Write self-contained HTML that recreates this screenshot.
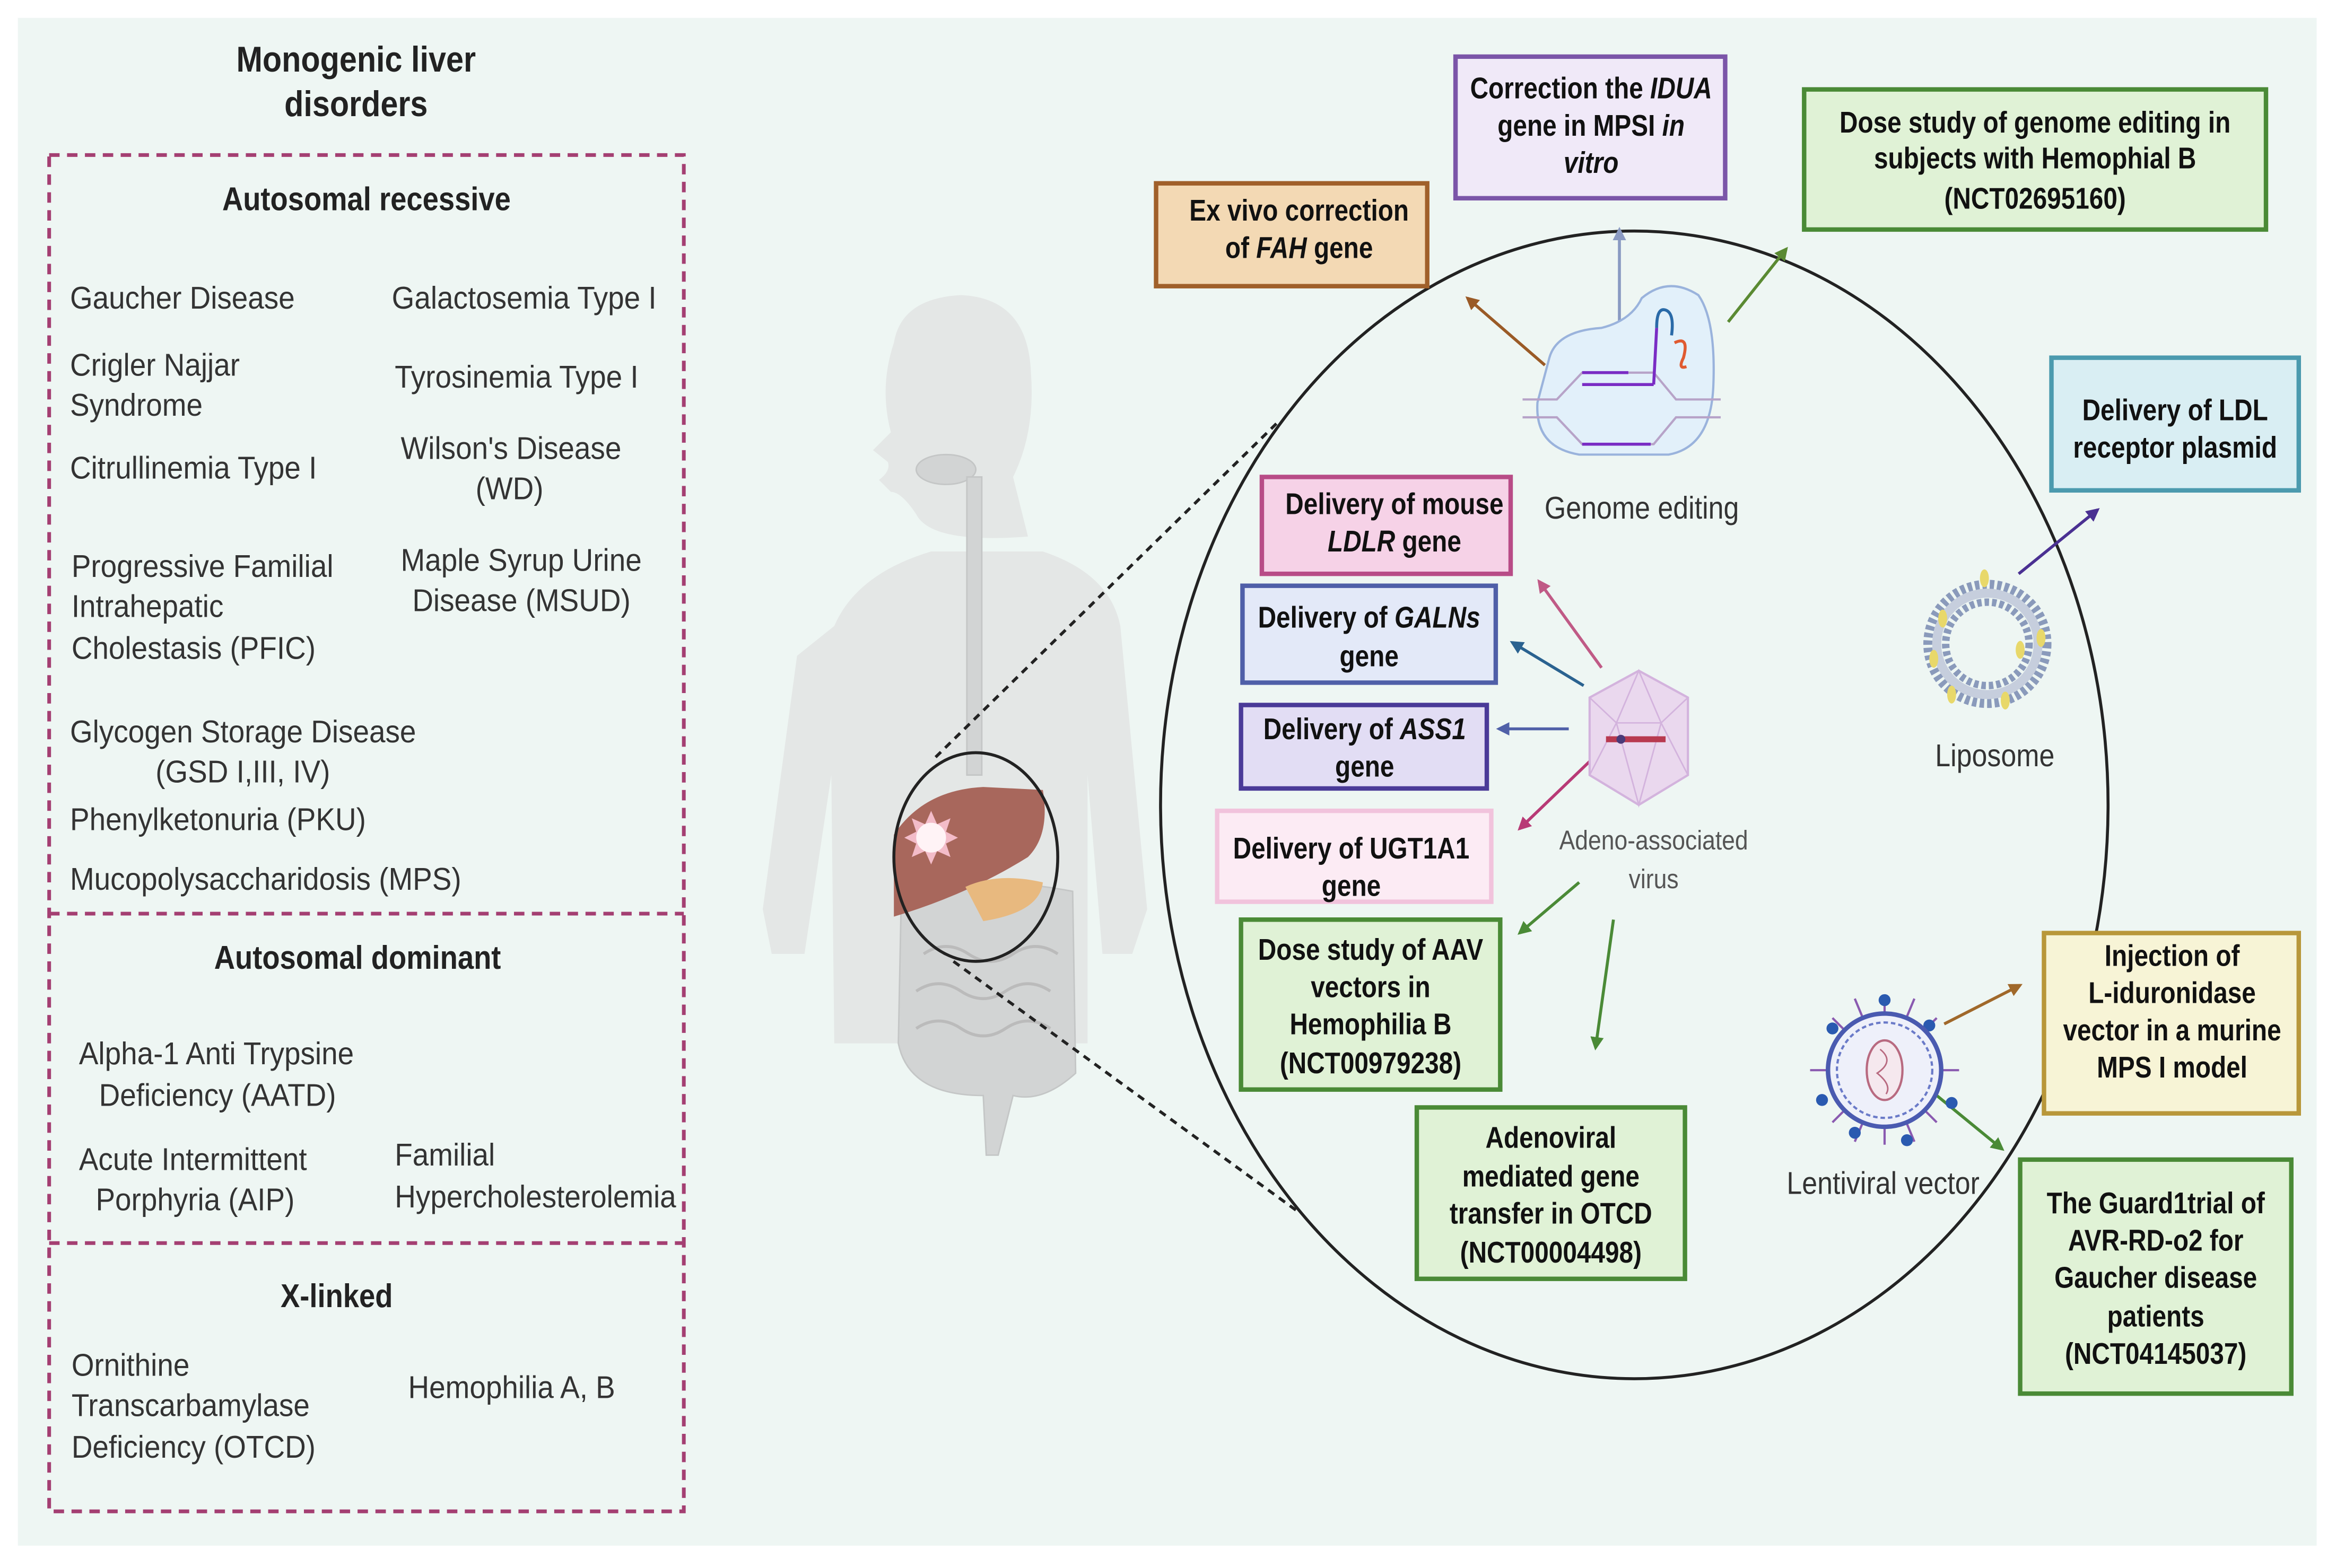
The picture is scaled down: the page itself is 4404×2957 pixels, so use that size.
<!DOCTYPE html>
<html><head><meta charset="utf-8"><style>
html,body{margin:0;padding:0;background:#fff;}
svg{display:block;}
text{font-family:"Liberation Sans",sans-serif;fill:#222;transform-box:fill-box;transform-origin:left center;transform:scaleX(0.88);}
text.c{transform-origin:center center;}
.b{font-weight:bold;}
.t{font-size:21px;fill:#333;transform:scaleX(0.93);}
.bx{font-size:20px;font-weight:bold;fill:#111;transform:scaleX(0.85);}
.c{text-anchor:middle;}
</style></head><body>
<svg width="4404" height="2957" viewBox="0 0 1568 1052" preserveAspectRatio="none" xmlns="http://www.w3.org/2000/svg">
<defs>
<marker id="m" viewBox="0 0 10 10" refX="8" refY="5" markerWidth="4.5" markerHeight="4.5" orient="auto-start-reverse"><path d="M0,0 L10,5 L0,10 z" fill="context-stroke"/></marker>
</defs>
<rect x="0" y="0" width="1568" height="1052" fill="#fff"/>
<rect x="12" y="12" width="1543" height="1025" fill="#eef6f3"/>

<!-- left panel -->
<text x="239" y="48" class="b c" font-size="24">Monogenic liver</text>
<text x="239" y="78" class="b c" font-size="24">disorders</text>
<g stroke="#a43f72" stroke-width="2.5" stroke-dasharray="7,5" fill="none">
<rect x="33" y="104" width="426" height="910"/>
<line x1="33" y1="613" x2="459" y2="613"/>
<line x1="33" y1="834" x2="459" y2="834"/>
</g>
<text x="246" y="141" class="b c" font-size="22">Autosomal recessive</text>
<text x="47" y="207" class="t">Gaucher Disease</text>
<text x="263" y="207" class="t">Galactosemia Type I</text>
<text x="47" y="252" class="t">Crigler Najjar</text>
<text x="47" y="279" class="t">Syndrome</text>
<text x="265" y="260" class="t">Tyrosinemia Type I</text>
<text x="47" y="321" class="t">Citrullinemia Type I</text>
<text x="269" y="308" class="t">Wilson's Disease</text>
<text x="342" y="335" class="t c">(WD)</text>
<text x="48" y="387" class="t">Progressive Familial</text>
<text x="48" y="414" class="t">Intrahepatic</text>
<text x="48" y="442" class="t">Cholestasis (PFIC)</text>
<text x="269" y="383" class="t">Maple Syrup Urine</text>
<text x="350" y="410" class="t c">Disease (MSUD)</text>
<text x="47" y="498" class="t">Glycogen Storage Disease</text>
<text x="163" y="525" class="t c">(GSD I,III, IV)</text>
<text x="47" y="557" class="t">Phenylketonuria (PKU)</text>
<text x="47" y="597" class="t">Mucopolysaccharidosis (MPS)</text>
<text x="240" y="650" class="b c" font-size="22">Autosomal dominant</text>
<text x="53" y="714" class="t">Alpha-1 Anti Trypsine</text>
<text x="146" y="742" class="t c">Deficiency (AATD)</text>
<text x="53" y="785" class="t">Acute Intermittent</text>
<text x="131" y="812" class="t c">Porphyria (AIP)</text>
<text x="265" y="782" class="t">Familial</text>
<text x="265" y="810" class="t">Hypercholesterolemia</text>
<text x="226" y="877" class="b c" font-size="22">X-linked</text>
<text x="48" y="923" class="t">Ornithine</text>
<text x="48" y="950" class="t">Transcarbamylase</text>
<text x="48" y="978" class="t">Deficiency (OTCD)</text>
<text x="274" y="938" class="t">Hemophilia A, B</text>

<!-- body silhouette -->
<g fill="#e4e7e6">
<path d="M600,230 Q605,200 645,198 Q690,200 692,250 Q695,290 680,320 L690,360 Q625,365 615,345 Q605,330 598,330 L590,322 Q598,316 596,310 L586,302 Q592,296 598,290 Q590,260 600,230 Z"/>
<path d="M560,420 Q575,385 625,370 L700,370 Q745,385 752,420 L770,610 L760,640 L740,640 L730,520 L730,700 L560,700 L558,520 L540,640 L518,640 L512,610 L535,440 Z"/>
</g>
<g fill="#d2d4d4" stroke="#c4c6c6" stroke-width="1">
<ellipse cx="635" cy="315" rx="20" ry="10"/>
<rect x="649" y="320" width="10" height="200"/>
<path d="M605,600 Q650,585 720,598 L722,720 Q700,740 680,735 L670,775 L662,775 L660,735 Q610,735 603,700 Z"/>
</g>
<g fill="none" stroke="#bbb" stroke-width="2">
<path d="M620,640 q15,-10 30,0 q15,10 30,0 q15,-10 30,0"/>
<path d="M615,665 q15,-10 30,0 q15,10 30,0 q15,-10 30,0"/>
<path d="M615,690 q15,-10 30,0 q15,10 30,0 q15,-10 30,0"/>
</g>
<path d="M600,560 Q620,530 660,528 L700,530 Q705,560 690,575 Q650,600 600,615 Z" fill="#a8675c"/>
<path d="M648,595 Q670,585 700,592 Q698,612 660,618 Z" fill="#e8b97f"/>
<g transform="translate(625,562)"><path d="M0,-18 L4,-9 L13,-13 L10,-4 L18,0 L10,4 L13,13 L4,9 L0,18 L-4,9 L-13,13 L-10,4 L-18,0 L-10,-4 L-13,-13 L-4,-9 Z" fill="#f3bcc9"/><circle r="10" fill="#fff3f6"/></g>
<ellipse cx="655" cy="575" rx="55" ry="70" fill="none" stroke="#222" stroke-width="2"/>
<g stroke="#222" stroke-width="2" stroke-dasharray="5,4">
<line x1="628" y1="508" x2="858" y2="283"/>
<line x1="640" y1="645" x2="870" y2="812"/>
</g>

<!-- big ellipse -->
<ellipse cx="1097" cy="540" rx="318" ry="385" fill="none" stroke="#222" stroke-width="2"/>

<!-- boxes -->
<g stroke-width="3">
<rect x="776" y="123" width="182" height="69" fill="#f3d9b4" stroke="#a0602a"/>
<rect x="977" y="38" width="181" height="95" fill="#f0e9f8" stroke="#7b55a8"/>
<rect x="1211" y="60" width="310" height="94" fill="#e0f2d6" stroke="#4a8a36"/>
<rect x="1377" y="240" width="166" height="89" fill="#d9eef3" stroke="#4b9aae"/>
<rect x="847" y="320" width="167" height="65" fill="#f6d2e7" stroke="#b84c87"/>
<rect x="834" y="393" width="170" height="65" fill="#e3e9f8" stroke="#4f5fa8"/>
<rect x="833" y="473" width="165" height="56" fill="#e2ddf4" stroke="#4a3a98"/>
<rect x="817" y="544" width="184" height="61" fill="#fcebf4" stroke="#f1c3dc"/>
<rect x="833" y="617" width="174" height="114" fill="#e0f2d6" stroke="#4a8a36"/>
<rect x="951" y="743" width="180" height="115" fill="#e0f2d6" stroke="#4a8a36"/>
<rect x="1372" y="626" width="171" height="121" fill="#f7f4d6" stroke="#b8973a"/>
<rect x="1356" y="778" width="182" height="157" fill="#e0f2d6" stroke="#4a8a36"/>
</g>
<text x="872" y="148" class="bx c">Ex vivo correction</text>
<text x="872" y="173" class="bx c">of <tspan font-style="italic">FAH</tspan> gene</text>
<text x="1068" y="66" class="bx c">Correction the <tspan font-style="italic">IDUA</tspan></text>
<text x="1068" y="91" class="bx c">gene in MPSI <tspan font-style="italic">in</tspan></text>
<text x="1068" y="116" class="bx c" font-style="italic">vitro</text>
<text x="1366" y="89" class="bx c">Dose study of genome editing in</text>
<text x="1366" y="113" class="bx c">subjects with Hemophial B</text>
<text x="1366" y="140" class="bx c">(NCT02695160)</text>
<text x="1460" y="282" class="bx c">Delivery of LDL</text>
<text x="1460" y="307" class="bx c">receptor plasmid</text>
<text x="936" y="345" class="bx c">Delivery of mouse</text>
<text x="936" y="370" class="bx c"><tspan font-style="italic">LDLR</tspan> gene</text>
<text x="919" y="421" class="bx c">Delivery of <tspan font-style="italic">GALNs</tspan></text>
<text x="919" y="447" class="bx c">gene</text>
<text x="916" y="496" class="bx c">Delivery of <tspan font-style="italic">ASS1</tspan></text>
<text x="916" y="521" class="bx c">gene</text>
<text x="907" y="576" class="bx c">Delivery of UGT1A1</text>
<text x="907" y="601" class="bx c">gene</text>
<text x="920" y="644" class="bx c">Dose study of AAV</text>
<text x="920" y="669" class="bx c">vectors in</text>
<text x="920" y="694" class="bx c">Hemophilia B</text>
<text x="920" y="720" class="bx c">(NCT00979238)</text>
<text x="1041" y="770" class="bx c">Adenoviral</text>
<text x="1041" y="796" class="bx c">mediated gene</text>
<text x="1041" y="821" class="bx c">transfer in OTCD</text>
<text x="1041" y="847" class="bx c">(NCT00004498)</text>
<text x="1458" y="648" class="bx c">Injection of</text>
<text x="1458" y="673" class="bx c">L-iduronidase</text>
<text x="1458" y="698" class="bx c">vector in a murine</text>
<text x="1458" y="723" class="bx c">MPS I model</text>
<text x="1447" y="814" class="bx c">The Guard1trial of</text>
<text x="1447" y="839" class="bx c">AVR-RD-o2 for</text>
<text x="1447" y="864" class="bx c">Gaucher disease</text>
<text x="1447" y="890" class="bx c">patients</text>
<text x="1447" y="915" class="bx c">(NCT04145037)</text>

<!-- labels -->
<text x="1102" y="348" class="c" font-size="21" style="fill:#333">Genome editing</text>
<text x="1339" y="514" class="c" font-size="21" style="fill:#333">Liposome</text>
<text x="1110" y="570" class="c" font-size="18" style="fill:#555">Adeno-associated</text>
<text x="1110" y="596" class="c" font-size="18" style="fill:#555">virus</text>
<text x="1264" y="801" class="c" font-size="21" style="fill:#333">Lentiviral vector</text>

<!-- arrows -->
<g fill="none" stroke-width="2" marker-end="url(#m)">
<line x1="1037" y1="245" x2="985" y2="200" stroke="#9a5a26"/>
<line x1="1087" y1="218" x2="1087" y2="154" stroke="#8a9ac2"/>
<line x1="1160" y1="216" x2="1199" y2="167" stroke="#5a8a32"/>
<line x1="1355" y1="385" x2="1408" y2="342" stroke="#4a3092"/>
<line x1="1075" y1="448" x2="1033" y2="390" stroke="#c05a86"/>
<line x1="1063" y1="460" x2="1015" y2="431" stroke="#2a6290"/>
<line x1="1053" y1="489" x2="1006" y2="489" stroke="#5060a8"/>
<line x1="1070" y1="508" x2="1020" y2="556" stroke="#b83a76"/>
<line x1="1060" y1="592" x2="1020" y2="626" stroke="#4a8a36"/>
<line x1="1083" y1="617" x2="1071" y2="703" stroke="#4a8a36"/>
<line x1="1305" y1="687" x2="1356" y2="661" stroke="#a0682a"/>
<line x1="1300" y1="735" x2="1344" y2="771" stroke="#4a8a36"/>
</g>

<!-- genome editing icon -->
<path d="M1040,240 Q1045,222 1075,220 Q1095,215 1102,200 Q1120,185 1140,198 Q1152,215 1150,260 Q1148,300 1120,305 L1060,305 Q1030,300 1032,270 Z" fill="#e2f0fa" stroke="#9ab3dc" stroke-width="1.5"/>
<g stroke="#b7a3c8" stroke-width="1.5" fill="none">
<path d="M1022,268 L1045,268 L1062,250 L1110,250 L1125,268 L1155,268"/>
<path d="M1022,280 L1045,280 L1062,298 L1110,298 L1125,280 L1155,280"/>
</g>
<line x1="1062" y1="250" x2="1093" y2="250" stroke="#7a2cc4" stroke-width="2"/>
<line x1="1062" y1="258" x2="1110" y2="258" stroke="#7a2cc4" stroke-width="2"/>
<line x1="1110" y1="258" x2="1112" y2="220" stroke="#7a2cc4" stroke-width="2"/>
<path d="M1112,220 Q1112,206 1118,208 Q1124,210 1122,225" stroke="#2a6aa8" stroke-width="2" fill="none"/>
<path d="M1124,230 Q1134,225 1130,240 Q1126,248 1132,246" stroke="#e05a30" stroke-width="2" fill="none"/>
<line x1="1062" y1="298" x2="1108" y2="298" stroke="#7a2cc4" stroke-width="2"/>

<!-- liposome -->
<circle cx="1334" cy="432" r="40" fill="none" stroke="#8a9abb" stroke-width="6" stroke-dasharray="3,2"/>
<circle cx="1334" cy="432" r="28" fill="none" stroke="#8a9abb" stroke-width="5" stroke-dasharray="3,2"/>
<circle cx="1334" cy="432" r="34" fill="none" stroke="#c6cedd" stroke-width="6"/>
<g fill="#e8d86a"><ellipse cx="1332" cy="388" rx="3" ry="6"/><ellipse cx="1304" cy="415" rx="3" ry="6"/><ellipse cx="1370" cy="428" rx="3" ry="6"/><ellipse cx="1298" cy="442" rx="3" ry="6"/><ellipse cx="1356" cy="436" rx="3" ry="6"/><ellipse cx="1310" cy="466" rx="3" ry="6"/><ellipse cx="1346" cy="470" rx="3" ry="6"/></g>

<!-- AAV -->
<polygon points="1100,450 1133,468 1133,520 1100,540 1067,520 1067,468" fill="#ead8ee" stroke="#d3b3dd" stroke-width="1.5"/>
<g stroke="#d3b3dd" stroke-width="1" fill="none"><path d="M1100,450 L1085,485 L1100,540 L1115,485 Z M1067,468 L1085,485 L1115,485 L1133,468 M1067,520 L1085,485 M1133,520 L1115,485"/></g>
<line x1="1078" y1="496" x2="1118" y2="496" stroke="#b83a50" stroke-width="4"/>
<circle cx="1088" cy="496" r="3" fill="#4a3a78"/>

<!-- lentivirus -->
<g stroke="#8a5ab0" stroke-width="1.5">
<line x1="1265" y1="668" x2="1265" y2="768"/><line x1="1215" y1="718" x2="1315" y2="718"/>
<line x1="1230" y1="683" x2="1300" y2="753"/><line x1="1300" y1="683" x2="1230" y2="753"/>
<line x1="1245" y1="670" x2="1285" y2="766"/><line x1="1285" y1="670" x2="1245" y2="766"/>
</g>
<g fill="#2a5ab0"><circle cx="1265" cy="671" r="4"/><circle cx="1295" cy="688" r="4"/><circle cx="1310" cy="740" r="4"/><circle cx="1280" cy="765" r="4"/><circle cx="1245" cy="760" r="4"/><circle cx="1223" cy="738" r="4"/><circle cx="1230" cy="690" r="4"/></g>
<circle cx="1265" cy="718" r="38" fill="#eef0fa" stroke="#4a5ab0" stroke-width="3"/>
<circle cx="1265" cy="718" r="32" fill="none" stroke="#6a7ac8" stroke-width="1.5" stroke-dasharray="3,2"/>
<ellipse cx="1265" cy="718" rx="12" ry="20" fill="#f5e8ee" stroke="#b86a80" stroke-width="1.5"/>
<path d="M1262,704 Q1272,712 1260,720 Q1270,728 1266,734" stroke="#b86a80" fill="none"/>
</svg>
</body></html>
